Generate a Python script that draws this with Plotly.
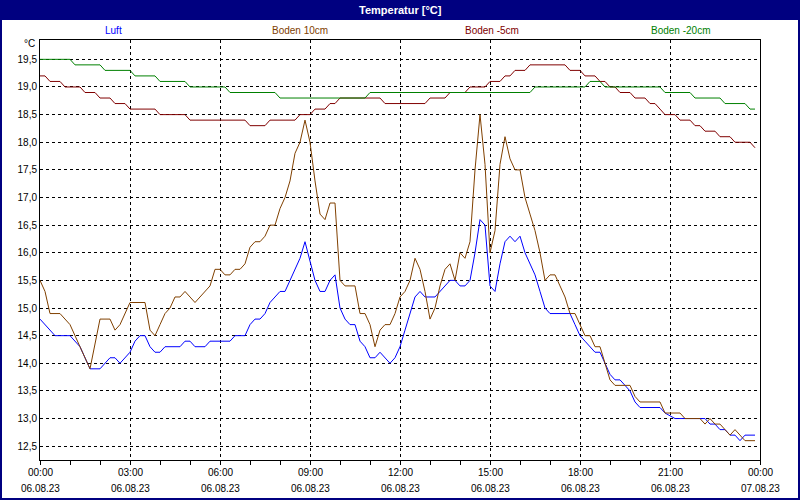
import plotly.graph_objects as go

DAY = "2023-08-06"

# ---------------- data ----------------
luft_time = ["00:00", "00:30", "01:00", "01:20", "01:40", "02:00", "02:20", "02:30", "02:40", "03:00",
             "03:10", "03:20", "03:30", "03:40", "03:50", "04:00", "04:10", "04:40", "04:50", "05:00",
             "05:10", "05:30", "05:40", "06:20", "06:30", "06:50", "07:00", "07:10", "07:20", "07:30",
             "07:40", "08:00", "08:10", "08:20", "08:40", "08:50", "09:10", "09:20", "09:30", "09:40",
             "09:50", "10:00", "10:10", "10:20", "10:30", "10:40", "10:50", "11:00", "11:10", "11:20",
             "11:40", "11:50", "12:00", "12:10", "12:20", "12:30", "12:40", "12:50", "13:10", "13:20",
             "13:30", "13:40", "13:50", "14:00", "14:10", "14:20", "14:30", "14:40", "14:50", "15:00",
             "15:10", "15:20", "15:30", "15:40", "15:50", "16:00", "16:10", "16:20", "16:30", "16:40",
             "16:50", "17:00", "17:40", "17:50", "18:00", "18:10", "18:30", "18:40", "18:50", "19:00",
             "19:10", "19:20", "19:40", "19:50", "20:00", "20:40", "20:50", "21:10", "22:10", "22:20",
             "22:30", "22:40", "22:50", "23:00", "23:10", "23:20", "23:30", "23:50"]
luft_vals = [14.8, 14.5, 14.5, 14.3, 13.9, 13.9, 14.1, 14.1, 14.0, 14.2,
             14.4, 14.5, 14.5, 14.3, 14.2, 14.2, 14.3, 14.3, 14.4, 14.4,
             14.3, 14.3, 14.4, 14.4, 14.5, 14.5, 14.7, 14.8, 14.8, 14.9,
             15.1, 15.3, 15.3, 15.5, 15.9, 16.2, 15.5, 15.3, 15.3, 15.5,
             15.6, 15.0, 14.8, 14.7, 14.7, 14.4, 14.3, 14.1, 14.1, 14.2,
             14.0, 14.1, 14.3, 14.6, 14.9, 15.2, 15.3, 15.2, 15.2, 15.3,
             15.4, 15.5, 15.5, 15.4, 15.4, 15.5, 16.0, 16.6, 16.5, 15.4,
             15.3, 15.8, 16.2, 16.3, 16.2, 16.3, 16.0, 15.8, 15.6, 15.3,
             15.0, 14.9, 14.9, 14.7, 14.5, 14.4, 14.2, 14.2, 14.0, 13.8,
             13.7, 13.7, 13.5, 13.3, 13.2, 13.2, 13.1, 13.0, 13.0, 12.9,
             12.9, 12.8, 12.8, 12.7, 12.7, 12.6, 12.7, 12.7]

boden10_time = ["00:00", "00:10", "00:20", "00:40", "01:00", "01:40", "02:00", "02:20", "02:30", "02:40",
                "03:00", "03:30", "03:40", "03:50", "04:00", "04:10", "04:20", "04:30", "04:40", "04:50",
                "05:10", "05:20", "05:40", "05:50", "06:00", "06:10", "06:20", "06:30", "06:40", "06:50",
                "07:00", "07:10", "07:20", "07:30", "07:40", "07:50", "08:00", "08:10", "08:20", "08:30",
                "08:40", "08:50", "09:00", "09:10", "09:20", "09:30", "09:40", "09:50", "10:00", "10:10",
                "10:30", "10:40", "10:50", "11:00", "11:10", "11:20", "11:30", "11:40", "11:50", "12:00",
                "12:10", "12:20", "12:30", "12:40", "12:50", "13:00", "13:10", "13:20", "13:30", "13:40",
                "13:50", "14:00", "14:10", "14:20", "14:30", "14:40", "14:50", "15:00", "15:10", "15:20",
                "15:30", "15:40", "15:50", "16:00", "16:10", "16:20", "16:30", "16:40", "16:50", "17:00",
                "17:10", "17:20", "17:30", "17:40", "17:50", "18:00", "18:10", "18:20", "18:30", "18:40",
                "19:00", "19:10", "19:40", "19:50", "20:00", "20:40", "20:50", "21:20", "21:30", "22:00",
                "22:10", "22:20", "22:30", "22:40", "22:50", "23:00", "23:10", "23:20", "23:30", "23:50"]
boden10_vals = [15.5, 15.3, 14.9, 14.9, 14.7, 13.9, 14.8, 14.8, 14.6, 14.7,
                15.1, 15.1, 14.6, 14.5, 14.7, 14.9, 15.0, 15.2, 15.2, 15.3,
                15.1, 15.2, 15.4, 15.7, 15.7, 15.6, 15.6, 15.7, 15.7, 15.8,
                16.1, 16.2, 16.2, 16.3, 16.5, 16.5, 16.8, 17.0, 17.3, 17.8,
                18.0, 18.4, 18.0, 17.3, 16.7, 16.6, 16.9, 16.9, 15.5, 15.4,
                15.4, 14.9, 14.9, 14.7, 14.3, 14.6, 14.7, 14.7, 14.9, 15.2,
                15.3, 15.5, 15.9, 15.7, 15.3, 14.8, 15.0, 15.4, 15.7, 15.8,
                15.5, 16.0, 15.9, 16.2, 17.5, 18.5, 17.6, 16.0, 16.4, 17.6,
                18.1, 17.7, 17.5, 17.5, 17.0, 16.7, 16.4, 16.0, 15.5, 15.6,
                15.6, 15.4, 15.2, 14.9, 14.9, 14.7, 14.5, 14.5, 14.3, 14.3,
                13.7, 13.6, 13.6, 13.4, 13.3, 13.3, 13.1, 13.1, 13.0, 13.0,
                12.9, 13.0, 12.9, 12.9, 12.8, 12.7, 12.8, 12.7, 12.6, 12.6]

boden5_time = ["00:00", "00:10", "00:20", "00:40", "00:50", "01:20", "01:30", "01:50", "02:00", "02:20",
               "02:30", "02:50", "03:00", "03:50", "04:00", "04:50", "05:00", "06:50", "07:00", "07:30",
               "07:40", "08:30", "08:40", "09:00", "09:10", "09:30", "09:40", "09:50", "10:00", "11:20",
               "11:30", "12:50", "13:00", "13:30", "13:40", "14:10", "14:20", "14:50", "15:00", "15:20",
               "15:30", "15:40", "15:50", "16:10", "16:20", "17:30", "17:40", "18:00", "18:10", "18:30",
               "18:40", "18:50", "19:00", "19:10", "19:20", "19:40", "19:50", "20:10", "20:20", "20:30",
               "20:40", "20:50", "21:10", "21:20", "21:40", "21:50", "22:00", "22:10", "22:30", "22:40",
               "23:00", "23:10", "23:40", "23:50"]
boden5_vals = [19.2, 19.2, 19.1, 19.1, 19.0, 19.0, 18.9, 18.9, 18.8, 18.8,
               18.7, 18.7, 18.6, 18.6, 18.5, 18.5, 18.4, 18.4, 18.3, 18.3,
               18.4, 18.4, 18.5, 18.5, 18.6, 18.6, 18.7, 18.7, 18.8, 18.8,
               18.7, 18.7, 18.8, 18.8, 18.9, 18.9, 19.0, 19.0, 19.1, 19.1,
               19.2, 19.2, 19.3, 19.3, 19.4, 19.4, 19.3, 19.3, 19.2, 19.2,
               19.1, 19.1, 19.0, 19.0, 18.9, 18.9, 18.8, 18.8, 18.7, 18.7,
               18.6, 18.5, 18.5, 18.4, 18.4, 18.3, 18.3, 18.2, 18.2, 18.1,
               18.1, 18.0, 18.0, 17.9]

boden20_time = ["00:00", "01:00", "01:10", "02:00", "02:10", "03:00", "03:10", "03:50", "04:00", "04:50",
                "05:00", "06:10", "06:20", "07:50", "08:00", "10:50", "11:00", "16:20", "16:30", "18:10",
                "18:20", "18:40", "18:50", "20:40", "20:50", "21:40", "21:50", "22:40", "22:50", "23:30",
                "23:40", "23:50"]
boden20_vals = [19.5, 19.5, 19.4, 19.4, 19.3, 19.3, 19.2, 19.2, 19.1, 19.1,
                19.0, 19.0, 18.9, 18.9, 18.8, 18.8, 18.9, 18.9, 19.0, 19.0,
                19.1, 19.1, 19.0, 19.0, 18.9, 18.9, 18.8, 18.8, 18.7, 18.7,
                18.6, 18.6]

series_names = ["Luft", "Boden 10cm", "Boden -5cm", "Boden -20cm"]
series_colors = ["#0000ff", "#804000", "#800000", "#008000"]
series_times = [luft_time, boden10_time, boden5_time, boden20_time]
series_vals = [luft_vals, boden10_vals, boden5_vals, boden20_vals]

tick_vals = ["2023-08-06 00:00", "2023-08-06 03:00", "2023-08-06 06:00", "2023-08-06 09:00",
             "2023-08-06 12:00", "2023-08-06 15:00", "2023-08-06 18:00", "2023-08-06 21:00",
             "2023-08-07 00:00"]
tick_time_labels = ["00:00", "03:00", "06:00", "09:00", "12:00", "15:00", "18:00", "21:00", "00:00"]
tick_date_labels = ["06.08.23", "06.08.23", "06.08.23", "06.08.23", "06.08.23", "06.08.23",
                    "06.08.23", "06.08.23", "07.08.23"]
y_ticks = [12.5, 13.0, 13.5, 14.0, 14.5, 15.0, 15.5, 16.0, 16.5, 17.0, 17.5, 18.0, 18.5, 19.0, 19.5]

title_text = "Temperatur [°C]"
unit_text = "°C"

# ---------------- layout geometry ----------------
W, H = 800, 500
ML, MR, MT, MB = 40, 40, 40, 40
PW, PH = W - ML - MR, H - MT - MB


def px(x):
    return (x - ML) / PW


def py(y):
    return (H - MB - y) / PH


FONT = "Liberation Sans"
NAVY = "#000080"

fig = go.Figure()
for name, color, t, v in zip(series_names, series_colors, series_times, series_vals):
    fig.add_trace(go.Scatter(
        x=[f"{DAY} {s}" for s in t], y=v, mode="lines", name=name,
        line=dict(color=color, width=1), showlegend=False, hoverinfo="skip",
    ))

shapes = [
    dict(type="rect", xref="paper", yref="paper", x0=px(0), x1=px(W), y0=py(20), y1=py(0),
         fillcolor=NAVY, line=dict(width=0), layer="above"),
    dict(type="rect", xref="paper", yref="paper", x0=px(0), x1=px(2), y0=py(H), y1=py(0),
         fillcolor=NAVY, line=dict(width=0), layer="above"),
    dict(type="rect", xref="paper", yref="paper", x0=px(W - 2), x1=px(W), y0=py(H), y1=py(0),
         fillcolor=NAVY, line=dict(width=0), layer="above"),
    dict(type="rect", xref="paper", yref="paper", x0=px(0), x1=px(W), y0=py(H), y1=py(H - 2),
         fillcolor=NAVY, line=dict(width=0), layer="above"),
]

legend_x = [113, 300, 492, 680]
annotations = [
    dict(text=f"<b>{title_text}</b>", x=px(400), y=py(10), xref="paper", yref="paper",
         showarrow=False, xanchor="center", yanchor="middle",
         font=dict(family=FONT, size=11, color="white")),
    dict(text=unit_text, x=px(37), y=py(44), xref="paper", yref="paper",
         showarrow=False, xanchor="right", yanchor="middle",
         font=dict(family=FONT, size=10, color="black")),
]
for name, color, lx in zip(series_names, series_colors, legend_x):
    annotations.append(dict(text=name, x=px(lx), y=py(30), xref="paper", yref="paper",
                            showarrow=False, xanchor="center", yanchor="middle",
                            font=dict(family=FONT, size=10, color=color)))
# two-line x tick labels placed on the x axis scale
for tv, tl, dl in zip(tick_vals, tick_time_labels, tick_date_labels):
    annotations.append(dict(text=tl, x=tv, y=py(473), xref="x", yref="paper",
                            showarrow=False, xanchor="center", yanchor="middle",
                            font=dict(family=FONT, size=10, color="black")))
    annotations.append(dict(text=dl, x=tv, y=py(488), xref="x", yref="paper",
                            showarrow=False, xanchor="center", yanchor="middle",
                            font=dict(family=FONT, size=10, color="black")))

fig.update_layout(
    width=W, height=H, autosize=False,
    margin=dict(l=ML, r=MR, t=MT, b=MB, pad=0),
    paper_bgcolor="white", plot_bgcolor="white",
    separators=",.",
    font=dict(family=FONT, size=10, color="black"),
    shapes=shapes, annotations=annotations,
    showlegend=False,
)
fig.update_xaxes(
    type="date", range=["2023-08-06 00:00", "2023-08-07 00:00"],
    tickmode="array", tickvals=tick_vals, showticklabels=False,
    ticks="outside", ticklen=4, tickcolor="black", tickwidth=1,
    showgrid=True, gridcolor="black", gridwidth=1, griddash="3px,3px",
    showline=True, linecolor="black", linewidth=1, mirror=True,
    zeroline=False,
    minor=dict(dtick=3600000, tick0="2023-08-06 00:00", ticks="outside", ticklen=4,
               tickcolor="black", showgrid=False),
)
fig.update_yaxes(
    range=[12.25, 19.85], tickmode="array", tickvals=y_ticks,
    tickformat=".1f", ticks="",
    showgrid=True, gridcolor="black", gridwidth=1, griddash="3px,3px",
    showline=True, linecolor="black", linewidth=1, mirror=True,
    zeroline=False,
    tickfont=dict(family=FONT, size=10, color="black"),
)

fig.write_html("out.html", config={"displayModeBar": False},
               post_script="document.body.style.margin='0px';document.body.style.overflow='hidden';")
